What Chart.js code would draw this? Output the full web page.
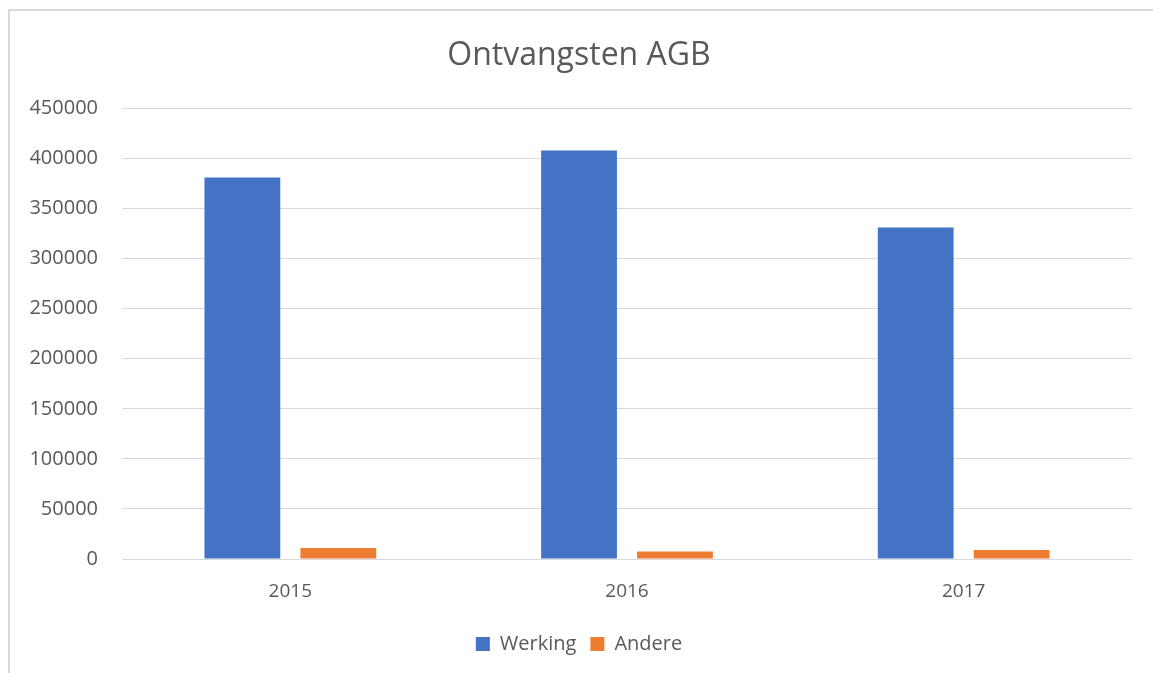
<!DOCTYPE html>
<html>
<head>
<meta charset="utf-8">
<title>Ontvangsten AGB</title>
<script src="https://cdn.jsdelivr.net/npm/chart.js@4/dist/chart.umd.min.js"></script>
<style>
  body { margin: 0; background: #fff; }
  #wrap { position: absolute; left: 0; top: 0; width: 1153px; height: 673px; }
  #frame { position: absolute; left: 8px; top: 9px; width: 1200px; height: 700px;
           border-left: 2px solid #d9d9d9; border-top: 2px solid #d9d9d9; }
</style>
</head>
<body>
<div id="frame"></div>
<div id="wrap"><canvas id="myChart" width="1153" height="673"></canvas></div>
<script>
// Ontvangsten AGB

const labels = ["2015", "2016", "2017"];
const werking = [381000, 408000, 331000];
const andere = [11000, 7500, 9000];

const textColor = "#595959";
const fontFamily = "'Open Sans', sans-serif";

const data = {
  labels: labels,
  datasets: [
    {
      label: "Werking",
      data: werking,
      backgroundColor: "#4472c4",
      categoryPercentage: 0.57,
      barPercentage: 0.79,
    },
    {
      label: "Andere",
      data: andere,
      backgroundColor: "#ed7d31",
      categoryPercentage: 0.57,
      barPercentage: 0.79,
    },
  ],
};

const config = {
  type: "bar",
  data: data,
  options: {
    responsive: false,
    animation: false,
    layout: {
      // un peu de marge à gauche pour recentrer titre et légende
      padding: { left: 26, right: 21, top: 0, bottom: 9 },
    },
    plugins: {
      title: {
        display: true,
        text: "Ontvangsten AGB",
        color: textColor,
        font: { family: fontFamily, size: 32, weight: "normal" },
        padding: { top: 37, bottom: 33 },
      },
      legend: {
        position: "bottom",
        labels: {
          color: textColor,
          font: { family: fontFamily, size: 20 },
          boxWidth: 14,
          boxHeight: 14,
          padding: 14,
        },
      },
      tooltip: { enabled: false },
    },
    scales: {
      x: {
        grid: { display: false },
        border: { display: false },
        ticks: {
          color: textColor,
          font: { family: fontFamily, size: 19 },
          padding: 13,
        },
        afterFit: (scale) => {
          scale.height = 61;
        },
      },
      y: {
        min: 0,
        max: 450000,
        grid: { color: "#d9d9d9", lineWidth: 1, drawTicks: false },
        border: { display: false },
        ticks: {
          stepSize: 50000,
          color: textColor,
          font: { family: fontFamily, size: 20 },
          padding: 24,
          callback: (value) => String(value),
        },
        afterFit: (scale) => {
          scale.width = 96;
        },
      },
    },
  },
};

const context = document.getElementById("myChart").getContext("2d");
const chart = new Chart(context, config);
</script>
</body>
</html>
